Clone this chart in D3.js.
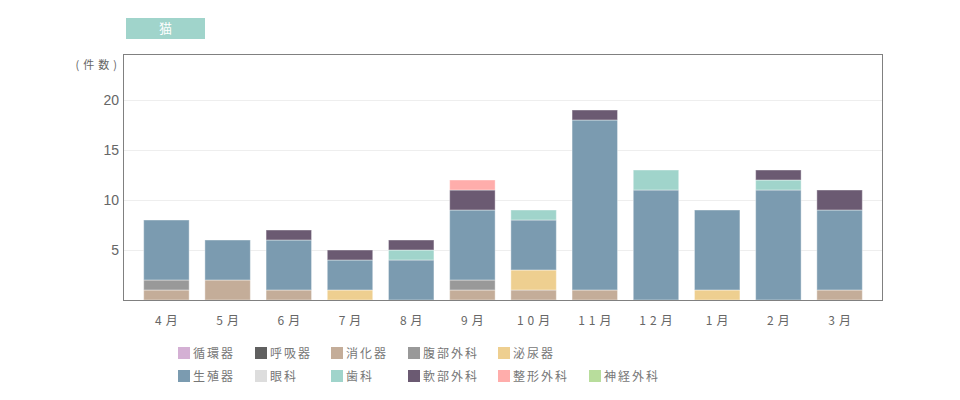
<!DOCTYPE html>
<html>
<head>
<meta charset="utf-8">
<script src="https://cdn.jsdelivr.net/npm/d3@7"></script>
<style>
  body { margin: 0; background: #fff; }
  text { font-family: "Noto Sans CJK JP", "Noto Sans", sans-serif; }
</style>
</head>
<body>
<div id="chart"></div>
<script>
(function() {

  // --- data ---
  var months = ["4月", "5月", "6月", "7月", "8月", "9月", "10月", "11月", "12月", "1月", "2月", "3月"];

  var categories = ["循環器", "呼吸器", "消化器", "腹部外科", "泌尿器", "生殖器", "眼科", "歯科", "軟部外科", "整形外科", "神経外科"];

  var colors = ["#d4b0d4", "#606060", "#c4ad99", "#999999", "#eecf90", "#7b9bb0", "#dddddd", "#a0d4cb", "#6b5a72", "#ffadab", "#b8dd9c"];

  // one array per category, values by month (4月 .. 3月)
  var junkanki   = [0, 0, 0, 0, 0, 0, 0, 0, 0, 0, 0, 0];
  var kokyuki    = [0, 0, 0, 0, 0, 0, 0, 0, 0, 0, 0, 0];
  var shokaki    = [1, 2, 1, 0, 0, 1, 1, 1, 0, 0, 0, 1];
  var fukubu     = [1, 0, 0, 0, 0, 1, 0, 0, 0, 0, 0, 0];
  var hinyoki    = [0, 0, 0, 1, 0, 0, 2, 0, 0, 1, 0, 0];
  var seishokuki = [6, 4, 5, 3, 4, 7, 5, 17, 11, 8, 11, 8];
  var ganka      = [0, 0, 0, 0, 0, 0, 0, 0, 0, 0, 0, 0];
  var shika      = [0, 0, 0, 0, 1, 0, 1, 0, 2, 0, 1, 0];
  var nanbu      = [0, 0, 1, 1, 1, 2, 0, 1, 0, 0, 1, 2];
  var seikei     = [0, 0, 0, 0, 0, 1, 0, 0, 0, 0, 0, 0];
  var shinkei    = [0, 0, 0, 0, 0, 0, 0, 0, 0, 0, 0, 0];

  var yTicks = [5, 10, 15, 20];

  // legend rows: first row holds 5 items, the rest go to the second row
  var legendRows = [5, 6];

  var series = [junkanki, kokyuki, shokaki, fukubu, hinyoki, seishokuki, ganka, shika, nanbu, seikei, shinkei];

  var table = months.map(function(m, i) {
    var row = { month: m };
    categories.forEach(function(c, j) { row[c] = series[j][i]; });
    return row;
  });

  // --- layout ---
  var width = 960, height = 400;
  var left = 123, right = 883, top = 54, bottom = 300;

  var svg = d3.select("#chart").append("svg")
      .attr("width", width)
      .attr("height", height);

  var x = d3.scaleBand()
      .domain(months)
      .range([left, right])
      .paddingInner(0.257)
      .paddingOuter(0.338);

  var y = d3.scaleLinear()
      .domain([0, 24.6])
      .range([bottom, top]);

  var color = d3.scaleOrdinal()
      .domain(categories)
      .range(colors);

  // title badge
  svg.append("rect")
      .attr("x", 126)
      .attr("y", 18)
      .attr("width", 79)
      .attr("height", 21)
      .attr("fill", "#a0d4cb");

  svg.append("text")
      .attr("x", 165.5)
      .attr("y", 33)
      .attr("text-anchor", "middle")
      .attr("fill", "#fff")
      .style("font-size", "13px")
      .text("猫");

  // grid lines
  svg.append("g")
    .selectAll("line")
      .data(yTicks)
    .enter().append("line")
      .attr("x1", left)
      .attr("x2", right)
      .attr("y1", d => y(d) + 0.5)
      .attr("y2", d => y(d) + 0.5)
      .attr("stroke", "#eeeeee");

  // y axis labels
  var yAxis = d3.axisLeft(y)
      .tickValues(yTicks)
      .tickSize(0)
      .tickPadding(4);

  var yAxisArea = svg.append("g")
      .attr("transform", "translate(" + left + ",0)")
      .call(yAxis);

  yAxisArea.select(".domain").remove();
  yAxisArea.selectAll("text")
      .attr("fill", "#666")
      .style("font-size", "14px")
      .style("font-family", "'Liberation Sans', sans-serif");

  svg.append("text")
      .attr("x", 121)
      .attr("y", 69)
      .attr("text-anchor", "end")
      .attr("fill", "#666")
      .style("font-size", "11px")
      .style("letter-spacing", "4px")
      .text("(件数)");

  // stacked bars
  var stack = d3.stack().keys(categories);

  svg.append("g")
    .selectAll("g")
      .data(stack(table))
    .enter().append("g")
      .attr("fill", d => color(d.key))
    .selectAll("rect")
      .data(d => d.filter(s => s[1] > s[0]))
    .enter().append("rect")
      .attr("x", d => x(d.data.month))
      .attr("y", d => y(d[1]))
      .attr("width", x.bandwidth())
      .attr("height", d => y(d[0]) - y(d[1]))
      .attr("stroke", "#fff")
      .attr("stroke-opacity", 0.4)
      .attr("stroke-width", 1);

  // frame
  svg.append("rect")
      .attr("x", left + 0.5)
      .attr("y", top + 0.5)
      .attr("width", right - left - 1)
      .attr("height", bottom - top)
      .attr("fill", "none")
      .attr("stroke", "#808080")
      .attr("stroke-width", 1);

  // x axis labels
  var xAxis = d3.axisBottom(x)
      .tickSize(0)
      .tickPadding(16);

  var xAxisArea = svg.append("g")
      .attr("transform", "translate(0," + bottom + ")")
      .call(xAxis);

  xAxisArea.select(".domain").remove();
  xAxisArea.selectAll("text")
      .attr("fill", "#666")
      .style("font-size", "12px")
      .style("letter-spacing", "4px")
      .attr("dx", "2px")
      .style("font-family", "'Noto Sans CJK JP', sans-serif");

  // legend: rows of items, columns sized by the widest label
  var legend = svg.append("g").attr("class", "legend");

  var pos = [];
  legendRows.forEach(function(n, r) {
    for (var c = 0; c < n; c++) pos.push({ row: r, col: c });
  });

  var items = legend.selectAll(".item")
      .data(categories)
    .enter().append("g")
      .attr("class", "item");

  items.append("rect")
      .attr("width", 12)
      .attr("height", 12)
      .attr("fill", d => color(d));

  items.append("text")
      .attr("x", 15)
      .attr("y", 11)
      .attr("fill", "#777")
      .style("font-size", "12px")
      .style("letter-spacing", "2px")
      .text(d => d);

  var colWidth = [];
  items.each(function(d, i) {
    var w = d3.select(this).select("text").node().getComputedTextLength();
    var c = pos[i].col;
    colWidth[c] = Math.max(colWidth[c] || 0, w);
  });

  var colX = [178];
  for (var c = 1; c < colWidth.length; c++) {
    colX[c] = colX[c - 1] + 15 + colWidth[c - 1] + 19.5;
  }

  items.attr("transform", (d, i) => "translate(" + Math.round(colX[pos[i].col]) + "," + (347 + pos[i].row * 23) + ")");

})();
</script>
</body>
</html>
